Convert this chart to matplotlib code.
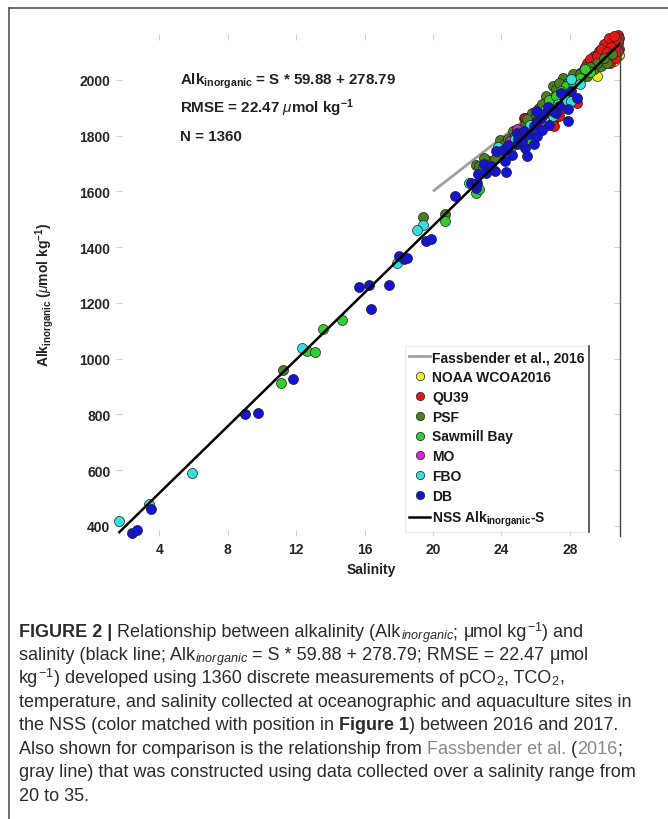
import matplotlib
matplotlib.use("Agg")
import matplotlib.pyplot as plt
from matplotlib.lines import Line2D

W, H = 668, 820

plt.rcParams["font.family"] = ["Liberation Sans", "DejaVu Sans"]
plt.rcParams["mathtext.fontset"] = "custom"
plt.rcParams["mathtext.rm"] = "Liberation Sans"
plt.rcParams["mathtext.it"] = "Liberation Sans:italic"
plt.rcParams["mathtext.bf"] = "Liberation Sans:bold"

# ---- data (salinity, alkalinity) ----
noaa_s = [30.6, 29.6, 30.9, 30.2]
noaa_a = [2068, 2015, 2090, 2105]

qu39_s = [25.3, 25.5, 27.0, 27.1, 27.4, 28.2, 28.4, 27.2, 28.6, 29.1, 29.4, 29.0,
          29.4, 29.7, 30.0, 30.2, 30.4, 30.6, 30.75, 30.85, 30.55, 30.85, 30.9,
          30.35, 29.96, 29.6, 30.6, 30.35, 29.8, 25.4, 30.1, 30.5, 30.7, 30.9,
          30.3, 29.9, 30.8, 30.0, 30.7, 29.5, 28.9, 29.2, 29.6, 30.0, 30.3, 30.6,
          30.4, 30.8, 29.8, 30.2, 29.3, 28.7, 28.3, 27.8, 27.6]
qu39_a = [1863, 1859, 1853, 1835, 1871, 1930, 1918, 1948, 2026, 2038, 2056, 2062,
          2086, 2104, 2116, 2128, 2139, 2145, 2157, 2163, 2122, 2134, 2110,
          2098, 2074, 2050, 2098, 2062, 2092, 1865, 2090, 2110, 2125, 2150,
          2115, 2060, 2140, 2100, 2080, 2070, 2045, 2075, 2085, 2130, 2150, 2158,
          2120, 2105, 2110, 2100, 2050, 2010, 1990, 1960, 1900]

psf_s = [11.25, 19.43, 20.7, 22.5, 22.7, 22.9, 23.3, 23.6, 23.9, 24.2, 24.4, 24.7,
         25.0, 25.3, 25.7, 27.0, 27.6, 28.2, 28.8, 29.4, 29.8, 30.2, 26.6, 27.2,
         26.2, 26.9, 27.8, 28.5, 29.0, 29.6, 30.0, 30.5, 25.8, 24.0, 23.0, 26.0,
         26.4, 27.4, 28.0, 28.6, 29.2, 25.5, 24.8]
psf_a = [960, 1510, 1519, 1694, 1691, 1685, 1709, 1718, 1785, 1775, 1787, 1817,
         1805, 1835, 1847, 1978, 2008, 2020, 2032, 2038, 2050, 2062, 1942, 1966,
         1900, 1925, 1985, 2000, 2015, 2060, 2080, 2095, 1880, 1740, 1720, 1870,
         1915, 1990, 1975, 2020, 2045, 1860, 1800]

sawmill_s = [11.1, 12.65, 13.1, 13.55, 14.66, 20.7, 22.5, 22.7, 23.1, 26.8, 27.2,
             27.8, 28.2, 28.6, 24.5, 25.5, 26.3, 29.2, 27.5, 28.9, 25.1]
sawmill_a = [913, 1028, 1023, 1106, 1138, 1495, 1596, 1608, 1686, 1930, 1942,
             1978, 1990, 2008, 1750, 1790, 1870, 2030, 1960, 2040, 1820]

mo_s = [24.5, 26.2, 24.9]
mo_a = [1781, 1837, 1823]

fbo_s = [1.64, 3.41, 5.9, 12.32, 17.9, 19.43, 19.05, 22.1, 25.7, 26.6, 27.0, 28.1,
         27.8, 28.1, 23.8, 24.8, 27.3, 28.6]
fbo_a = [419, 479, 590, 1040, 1343, 1479, 1462, 1629, 1837, 1895, 1871, 2002,
         1930, 1924, 1760, 1790, 1915, 1985]

db_s = [2.38, 2.71, 3.49, 9.0, 9.77, 11.8, 15.69, 16.26, 17.45, 16.37, 18.0, 18.3,
        18.5, 19.6, 19.9, 21.3, 22.2, 22.5, 22.6, 22.65, 23.1, 23.6, 24.3, 23.7,
        24.1, 24.4, 24.9, 25.4, 25.5, 25.9, 26.1, 24.9, 25.3, 25.6, 25.9, 26.1,
        26.3, 26.5, 26.0, 26.7, 27.4, 27.9, 27.9, 27.5, 28.1, 23.0, 24.6, 25.0,
        26.8, 27.2, 28.4, 23.4, 24.2, 25.2, 26.4, 27.0]
db_a = [375, 387, 461, 801, 805, 927, 1259, 1266, 1264, 1180, 1367, 1357,
        1360, 1421, 1431, 1584, 1629, 1614, 1632, 1662, 1668, 1674, 1671, 1745,
        1749, 1766, 1769, 1757, 1727, 1769, 1799, 1811, 1817, 1805, 1835, 1853,
        1865, 1877, 1889, 1904, 1906, 1895, 1853, 1954, 1960, 1700, 1730, 1790,
        1840, 1880, 1935, 1690, 1710, 1780, 1820, 1890]

# regression lines (end points in salinity)
nss_slope, nss_icpt = 59.88, 278.79
nss_s = [1.6, 31.0]
fass_slope, fass_icpt = 47.7, 646.7
fass_s = [20.0, 31.0]

groups = [
    ("NOAA WCOA2016", noaa_s, noaa_a, "#f2ee1c"),
    ("QU39", qu39_s, qu39_a, "#ec1313"),
    ("PSF", psf_s, psf_a, "#4c7d1f"),
    ("Sawmill Bay", sawmill_s, sawmill_a, "#33cc33"),
    ("MO", mo_s, mo_a, "#dd22dd"),
    ("FBO", fbo_s, fbo_a, "#33e0e0"),
    ("DB", db_s, db_a, "#1414d2"),
]

fig = plt.figure(figsize=(W / 100, H / 100), dpi=100)
ax = fig.add_axes([116 / W, 1 - 537 / H, (620 - 116) / W, (537 - 35) / H])

ax.plot(fass_s, [fass_slope * s + fass_icpt for s in fass_s], color="#a0a0a0",
        lw=2, zorder=1, solid_capstyle="butt")
for name, xs, ys, col in groups:
    ax.scatter(xs, ys, s=52, color=col, edgecolors="#222222", linewidths=0.5,
               zorder=2, clip_on=False)
ax.plot(nss_s, [nss_slope * s + nss_icpt for s in nss_s], color="black", lw=1.8,
        zorder=3, solid_capstyle="butt")

ax.set_xlim(1.46, 30.94)
ax.set_ylim(364, 2165)
ax.set_xticks([4, 8, 12, 16, 20, 24, 28])
ax.set_yticks([400, 600, 800, 1000, 1200, 1400, 1600, 1800, 2000])

for side in ["left", "top", "bottom"]:
    ax.spines[side].set_visible(False)
ax.spines["right"].set_color("#444444")
ax.spines["right"].set_linewidth(1.0)

ax.tick_params(axis="both", direction="in", length=4, width=0.8,
               colors="#d0d0d0", labelcolor="#262626", labelsize=10, pad=4)
ax.tick_params(axis="y", right=True)
ax.tick_params(axis="x", top=True)
for t in ax.yaxis.get_major_ticks():
    t.tick2line.set_color("#444444")
for t in ax.xaxis.get_major_ticks():
    t.tick2line.set_color("#f0f0f0")
    t.tick1line.set_color("#e4e4e4")
for lab in ax.get_xticklabels() + ax.get_yticklabels():
    lab.set_fontweight("bold")

# annotation
fig.text(180 / W, 1 - 85 / H, r"Alk$_{\mathbf{inorganic}}$ = S * 59.88 + 278.79",
         fontsize=10.9, fontweight="bold", color="#222222", va="baseline")
fig.text(180 / W, 1 - 113 / H, r"RMSE = 22.47 $\mu$mol kg$^{\mathbf{-1}}$",
         fontsize=10.9, fontweight="bold", color="#222222", va="baseline")
fig.text(180 / W, 1 - 141 / H, "N = 1360",
         fontsize=10.9, fontweight="bold", color="#222222", va="baseline")

fig.text(45 / W, 1 - 295 / H, r"Alk$_{\mathbf{inorganic}}$ ($\mu$mol kg$^{\mathbf{-1}}$)",
         rotation=90, fontsize=10, fontweight="bold", color="#222222",
         ha="center", va="center")
fig.text(371 / W, 1 - 570 / H, "Salinity", fontsize=10, fontweight="bold",
         color="#222222", ha="center", va="center")

# legend
handles = [Line2D([], [], color="#a0a0a0", lw=2)]
labels = ["Fassbender et al., 2016"]
for name, xs, ys, col in groups:
    handles.append(Line2D([], [], ls="none", marker="o", ms=6, mfc=col,
                          mec="#222222", mew=0.5))
    labels.append(name)
handles.append(Line2D([], [], color="black", lw=1.8))
labels.append(r"NSS Alk$_{\mathbf{inorganic}}$-S")
leg = ax.legend(handles, labels, loc="upper left",
                bbox_to_anchor=(405 / W, 1 - 347 / H), bbox_transform=fig.transFigure,
                prop={"weight": "bold", "size": 10}, frameon=True, fancybox=False,
                edgecolor="#e6e6e6", handlelength=1.5, handletextpad=0.15,
                labelspacing=0.42, borderpad=0.3, borderaxespad=0)
for txt in leg.get_texts():
    txt.set_color("#1a1a1a")

# page frame
fig.add_artist(Line2D([9 / W, 1], [1 - 8.5 / H] * 2, transform=fig.transFigure,
                      color="#555555", lw=1.2))
fig.add_artist(Line2D([9 / W] * 2, [0, 1 - 8.5 / H], transform=fig.transFigure,
                      color="#555555", lw=1.2))

# caption, drawn run by run (math pieces kept as separate short runs)
body = "#2b2b2b"
link = "#8a8a8a"
N, B = "normal", "bold"
caption = [
    [("FIGURE 2 |", body, B), (" Relationship between alkalinity (Alk", body, N),
     (r"$_{inorganic}$", body, N), ("; ", body, N), (r"$\mathrm{\mu}$", body, N),
     ("mol kg", body, N), (r"$^{-1}$", body, N), (") and", body, N)],
    [("salinity (black line; Alk", body, N), (r"$_{inorganic}$", body, N),
     (" = S * 59.88 + 278.79; RMSE = 22.47 ", body, N), (r"$\mathrm{\mu}$", body, N),
     ("mol", body, N)],
    [("kg", body, N), (r"$^{-1}$", body, N),
     (") developed using 1360 discrete measurements of pCO", body, N),
     (r"$_2$", body, N), (", TCO", body, N), (r"$_2$", body, N), (",", body, N)],
    [("temperature, and salinity collected at oceanographic and aquaculture sites in", body, N)],
    [("the NSS (color matched with position in ", body, N), ("Figure 1", body, B),
     (") between 2016 and 2017.", body, N)],
    [("Also shown for comparison is the relationship from ", body, N),
     ("Fassbender et al.", link, N), (" (", body, N), ("2016", link, N),
     (";", body, N)],
    [("gray line) that was constructed using data collected over a salinity range from", body, N)],
    [("20 to 35.", body, N)],
]
baselines = [637, 660, 683, 707, 730, 754, 777, 801]
cap_size = 13

fig.canvas.draw()
renderer = fig.canvas.get_renderer()


def run_width(s, weight):
    t1 = fig.text(0, 0, s + "|", fontsize=cap_size, fontweight=weight)
    t2 = fig.text(0, 0, "|", fontsize=cap_size, fontweight=weight)
    w = t1.get_window_extent(renderer).width - t2.get_window_extent(renderer).width
    t1.remove()
    t2.remove()
    return w


for runs, yb in zip(caption, baselines):
    x = 19.0
    for s, col, weight in runs:
        fig.text(x / W, 1 - yb / H, s, fontsize=cap_size, fontweight=weight,
                 color=col, va="baseline", ha="left")
        x += run_width(s, weight)

# dark right edge of the legend box
bb = leg.get_window_extent(renderer)
fig.add_artist(Line2D([bb.x1 / W] * 2, [bb.y0 / H, bb.y1 / H], transform=fig.transFigure,
                      color="#444444", lw=1.2))

fig.savefig("out.png", dpi=100)
